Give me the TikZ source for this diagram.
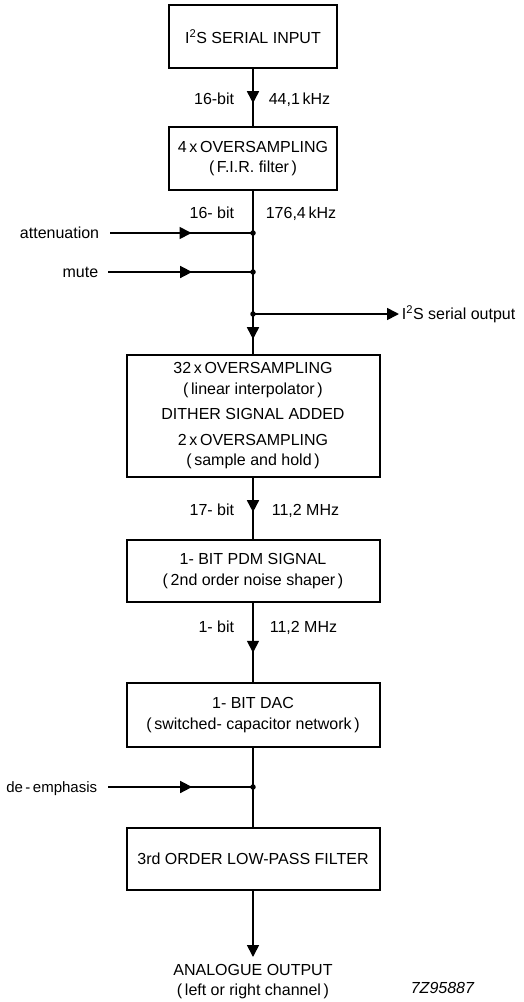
\documentclass[tikz,border=0pt]{standalone}
\usepackage{fontspec}
\setmainfont{Liberation Sans}
\usetikzlibrary{arrows.meta,decorations.markings}
\begin{document}
\begin{tikzpicture}[x=1pt,y=-1pt,
  line width=1.7pt,
  every node/.style={font=\fontsize{16}{20.5}\selectfont, inner sep=0pt},
  blk/.style={draw, line width=2pt, minimum width=168pt, minimum height=63pt, align=center},
  wide/.style={blk, minimum width=253pt},
  lbl/.style={text height=11.5pt, text depth=0pt},
  midarr/.style={postaction={decorate}, decoration={markings,
      mark=at position #1 with {\arrow{Triangle[length=12pt,width=12pt]}}}},
  endarr/.style={-{Triangle[length=12pt,width=12pt]}},
  dot/.style={circle, fill, minimum size=5.5pt, inner sep=0pt}
]
\useasboundingbox (0,0) rectangle (524,1002);

% blocks
\node[blk] (b1) at (253,36.5) {I\textsuperscript{2}S SERIAL INPUT};
\node[blk] (b2) at (253,158.5) {4\,x\,OVERSAMPLING\\(\,F.I.R. filter\,)};
\node[wide, minimum height=122pt] (b3) at (253,416)
  {32\,x\,OVERSAMPLING\\(\,linear interpolator\,)\\[4.5pt]DITHER SIGNAL ADDED\\[5.5pt]2\,x\,OVERSAMPLING\\(\,sample and hold\,)};
\node[wide, minimum height=62pt] (b4) at (253,571) {1- BIT PDM SIGNAL\\(\,2nd order noise shaper\,)};
\node[wide, minimum height=64pt] (b5) at (253,715) {1- BIT DAC\\(\,switched- capacitor network\,)};
\node[wide, minimum height=62pt] (b6) at (253,859) {3rd ORDER LOW-PASS FILTER};

% junctions and free ends
\coordinate (j1) at (253,233);
\coordinate (j2) at (253,272);
\coordinate (j3) at (253,314);
\coordinate (j4) at (253,787);
\coordinate (ia) at (110,233);
\coordinate (im) at (108,272);
\coordinate (id) at (108,787);
\coordinate (so) at (399,314);
\coordinate (ao) at (253,957);

% main chain
\draw[midarr=0.6] (b1.south) -- (b2.north);
\draw (b2.south) -- (j1) -- (j2) -- (j3);
\draw[midarr=0.63] (j3) -- (b3.north);
\draw[midarr=0.56] (b3.south) -- (b4.north);
\draw[midarr=0.63] (b4.south) -- (b5.north);
\draw (b5.south) -- (j4);
\draw (j4) -- (b6.north);
\draw[endarr] (b6.south) -- (ao);

% side inputs / output
\draw[midarr=0.57] (ia) -- (j1);
\draw[midarr=0.58] (im) -- (j2);
\draw[midarr=0.58] (id) -- (j4);
\draw[endarr] (j3) -- (so);

\foreach \p in {j1,j2,j3,j4} \node[dot] at (\p) {};

% labels
\node[lbl, anchor=east] (l1) at (235,99) {16-bit};
\node[lbl, anchor=west] (r1) at (268,99) {44,1\,kHz};
\node[lbl, anchor=east] (l2) at (235,213) {16- bit};
\node[lbl, anchor=west] (r2) at (265,213) {176,4\,kHz};
\node[lbl, anchor=east] (l3) at (235,510) {17- bit};
\node[lbl, anchor=west] (r3) at (271,510) {11,2 MHz};
\node[lbl, anchor=east] (l4) at (235,627) {1- bit};
\node[lbl, anchor=west] (r4) at (269,627) {11,2 MHz};

\node[lbl, anchor=east] (ta) at (100,233) {attenuation};
\node[lbl, anchor=east] (tm) at (99,272) {mute};
\node[lbl, anchor=east, font=\fontsize{15}{18}\selectfont] (td) at (98,787) {de\,-\,emphasis};
\node[lbl, anchor=west] (ts) at (401,314) {I\textsuperscript{2}S serial output};

\node[anchor=north, align=center] (out) at (253,963) {ANALOGUE OUTPUT\\(\,left or right channel\,)};
\node[lbl, anchor=west, font=\fontsize{16}{18}\itshape] (code) at (410,988) {7Z95887};
\end{tikzpicture}
\end{document}
